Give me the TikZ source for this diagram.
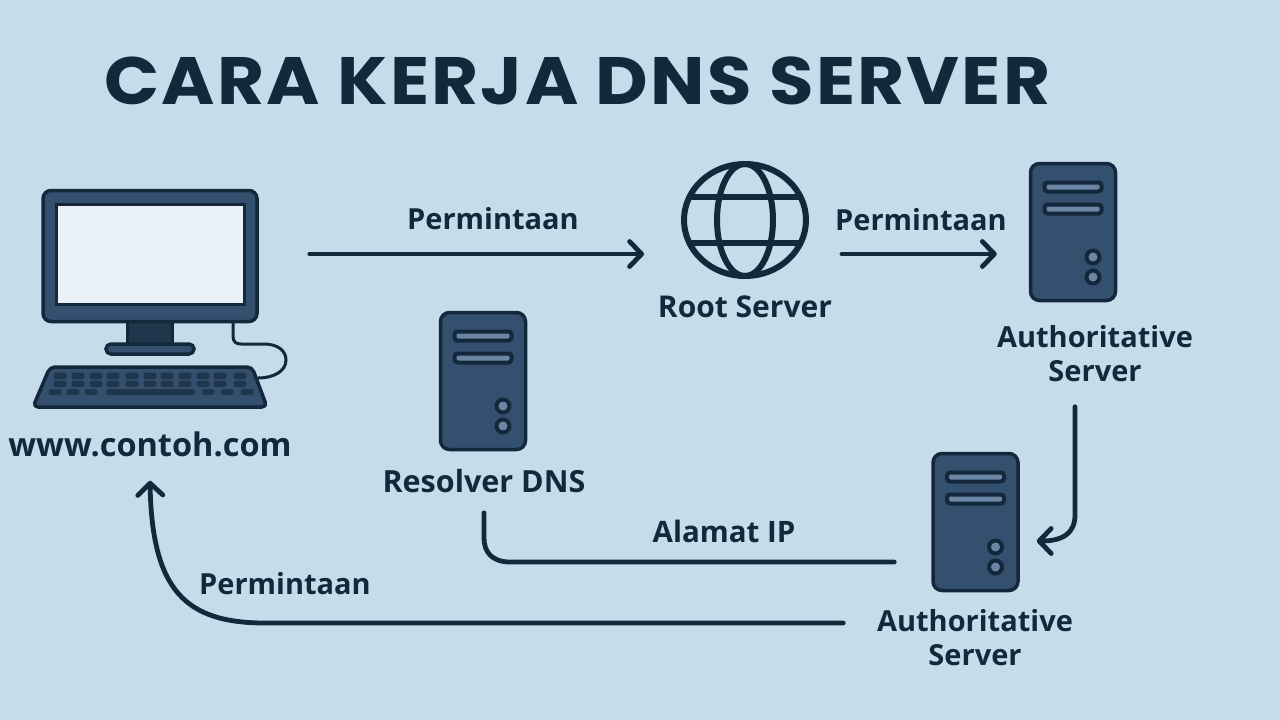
\documentclass[tikz,border=0pt]{standalone}
\usepackage{fontspec}
\usetikzlibrary{calc,arrows.meta,shapes.geometric}
\newfontfamily\titlefont[FakeStretch=1.08,LetterSpace=3.3]{Poppins}
\newfontfamily\labelfont{Open Sans}
\definecolor{bgc}{HTML}{C6DCEA}
\definecolor{ink}{HTML}{14283C}
\definecolor{bodyc}{HTML}{34506E}
\definecolor{slotc}{HTML}{6A86A4}
\definecolor{screenc}{HTML}{EAF2F8}
\definecolor{neckc}{HTML}{1F364D}
\tikzset{
 conn/.style={draw=ink,line width=4.8pt,line cap=round,line join=round},
 head/.style={-{Straight Barb[length=12pt,width=25pt,line width=4.8pt,round]}},
 part/.style={draw=ink,fill=bodyc,line width=3.5pt},
 lab/.style={text=ink,font=\labelfont\bfseries\fontsize{#1}{34}\selectfont,align=center,inner sep=0pt},
 lab/.default=29,
 srv/.style={part,minimum width=85pt,minimum height=137pt,rounded corners=9pt,inner sep=0pt},
 slot/.style={draw=ink,fill=slotc,line width=4pt,rounded corners=3pt,minimum width=57pt,minimum height=9pt,inner sep=0pt},
 knob/.style={draw=ink,fill=slotc,line width=4pt,circle,minimum size=13pt,inner sep=0pt},
 keyc/.style={draw=none,fill=neckc,rounded corners=2.5pt}
}
\newcommand{\serverAt}[3]{%
 \node[srv] (#1) at (#2,#3) {};
 \node[slot] (#1s1) at ($(#1)+(0,-45)$) {};
 \node[slot] (#1s2) at ($(#1)+(0,-23)$) {};
 \node[knob] (#1k1) at ($(#1)+(20,25)$) {};
 \node[knob] (#1k2) at ($(#1)+(20,45)$) {};
}
\begin{document}
\begin{tikzpicture}[x=1pt,y=-1pt]
\useasboundingbox (0,0) rectangle (1280,720);
\fill[bgc] (0,0) rectangle (1280,720);
\node[text=ink,font=\titlefont\bfseries\fontsize{67}{80}\selectfont,inner sep=0pt] (title) at (577.5,81) {CARA KERJA DNS SERVER};

% computer
\draw[draw=ink,line width=3pt] (233,322) -- (233,336) .. controls (233,342) and (236,344) .. (241,344) -- (264,344) .. controls (278,344) and (286,351) .. (286,360) .. controls (286,371) and (274,378) .. (258,378);
\node[part,fill=neckc,minimum width=45pt,minimum height=24pt,inner sep=0pt] (neck) at (150,333) {};
\node[part,rounded corners=5pt,minimum width=88pt,minimum height=10pt,inner sep=0pt] (base) at (150,349) {};
\node[part,rounded corners=8pt,minimum width=214pt,minimum height=131pt,inner sep=0pt] (monitor) at (150,256) {};
\node[draw=ink,fill=screenc,line width=3pt,minimum width=188pt,minimum height=100pt,inner sep=0pt] (screen) at (150,254) {};
\draw[part,rounded corners=5pt,line join=round] (50,367) -- (252,367) -- (267,407) -- (33,407) -- cycle;
\foreach \x in {60,78,96,113,132,150,167,185,203,220,240} {
 \fill[keyc] (\x-6.5,372.5) rectangle (\x+6.5,379);
 \fill[keyc] (\x-6.5,380.5) rectangle (\x+6.5,387);
}
\foreach \x in {55,73,91,208,227,247} { \fill[keyc] (\x-6.5,389) rectangle (\x+6.5,395); }
\fill[keyc] (106,389) rectangle (195,395);
\node[lab=32.5] (site) at (150,444) {www.contoh.com};

% globe
\node[draw=ink,line width=6pt,ellipse,minimum width=122pt,minimum height=112pt,inner sep=0pt] (globe) at (745,220) {};
\draw[ink,line width=6pt] (745,220) ellipse [x radius=28,y radius=56];
\draw[ink,line width=6pt] (689,197) -- (801,197) (689,243) -- (801,243);
\node[lab=30] (root) at (745,307) {Root Server};

% servers
\serverAt{auth}{1073}{232}
\node[lab] (authlab) at (1095,354) {Authoritative\\Server};
\serverAt{res}{483}{381}
\node[lab=30.5] (reslab) at (484,481) {Resolver DNS};
\serverAt{auth2}{975.5}{522}
\node[lab] (auth2lab) at (975,638) {Authoritative\\Server};

% labels
\node[lab] (l1) at (493,219) {Permintaan};
\node[lab] (l2) at (921,220) {Permintaan};
\node[lab=29.5] (l3) at (724,531) {Alamat IP};
\node[lab] (l4) at (285,584) {Permintaan};

% connector ends
\coordinate (a1s) at ($(monitor.east)+(51,-2)$);
\coordinate (a1e) at ($(globe.west)+(-37,34)$);
\coordinate (a2s) at ($(globe.east)+(33,34)$);
\coordinate (a2e) at ($(auth.west)+(-32,22)$);
\coordinate (a3s) at ($(auth.south)+(2,104.5)$);
\coordinate (a3e) at ($(auth2.east)+(17,19)$);
\coordinate (a4s) at ($(auth2.west)+(-37,40)$);
\coordinate (a4e) at ($(reslab.south)+(0,20)$);
\coordinate (a5s) at ($(auth2.west)+(-88,101)$);
\coordinate (a5e) at ($(site.south)+(0,24)$);

\draw[conn,head] (a1s) -- (a1e);
\draw[conn,head] (a2s) -- (a2e);
\draw[conn,head] (a3s) -- (1075,515) .. controls (1075,533) and (1063,541) .. (a3e);
\draw[conn] (a4s) -- (510,562) .. controls (492,562) and (484,552) .. (484,538) -- (a4e);
\draw[conn,head] (a5s) -- (265,623) .. controls (185,623) and (152,590) .. (a5e);
\end{tikzpicture}
\end{document}
